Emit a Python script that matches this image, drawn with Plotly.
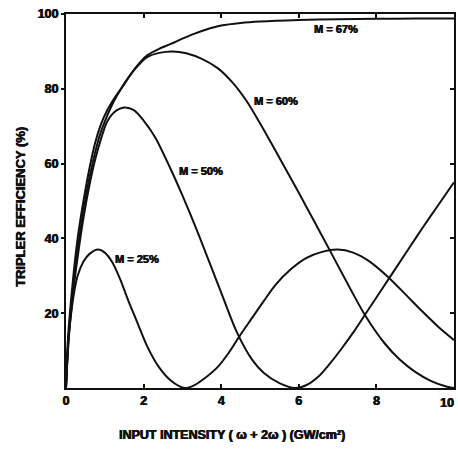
import plotly.graph_objects as go

# Tripler efficiency vs. input intensity for several mixing ratios M
x_m25 = [0, 0.05, 0.1, 0.2, 0.3, 0.45, 0.6, 0.83, 1.0, 1.2, 1.4, 1.6, 1.8, 2.1, 2.4, 2.7,
         3.05, 3.3, 3.6, 3.9, 4.2, 4.5, 4.8, 5.1, 5.4, 5.8, 6.2, 6.6, 7.0, 7.4, 7.8, 8.3,
         8.8, 9.2, 9.6, 10]
y_m25 = [0, 11, 17, 25, 30, 33.8, 35.8, 37, 36.2, 33.5, 29, 23.5, 18.5, 11, 5.5, 2,
         0, 0.7, 2.8, 5.5, 9.5, 14.3, 18.8, 23.3, 27.6, 31.8, 34.8, 36.4, 37, 36.2, 34, 29.7,
         24.5, 20.3, 16.3, 12.8]

x_m50 = [0, 0.05, 0.1, 0.2, 0.3, 0.45, 0.6, 0.75, 0.9, 1.05, 1.25, 1.5, 1.75, 2.0, 2.3,
         2.7, 3.0, 3.4, 3.7, 4.0, 4.4, 4.8, 5.1, 5.5, 5.9, 6.2, 6.5, 6.8, 7.1, 7.4, 7.7,
         8.0, 8.3, 8.6, 8.9, 9.2, 9.6, 10]
y_m50 = [0, 10, 17, 27, 35, 45.5, 54, 61, 66.5, 71, 73.8, 75, 74.3, 71.5, 67,
         58.5, 51.5, 41.5, 33.5, 25.5, 15, 7.5, 4, 1.3, 0, 0.8, 3, 6.5, 10.5, 14.8, 19.5,
         24.2, 28.9, 33.6, 38.3, 43, 49, 55]

x_m60 = [0, 0.05, 0.1, 0.2, 0.3, 0.45, 0.6, 0.75, 0.9, 1.05, 1.25, 1.45, 1.7, 1.9, 2.1,
         2.4, 2.75, 3.1, 3.5, 3.9, 4.3, 4.65, 5.0, 5.3, 5.6, 6.0, 6.4, 6.8, 7.2, 7.7, 8.2,
         8.6, 9.0, 9.4, 9.8, 10]
y_m60 = [0, 11, 18, 28.5, 37, 47.5, 56, 63, 68.5, 72.5, 77, 80.5, 84.3, 86.7, 88.5,
         89.6, 90, 89.5, 88, 85.6, 81.6, 76.8, 70.8, 65.3, 59.7, 52.2, 44.5, 36.8, 29, 19.6, 12.1,
         7.6, 4.3, 1.9, 0.4, 0]

x_m67 = [0, 0.05, 0.1, 0.2, 0.3, 0.45, 0.6, 0.75, 0.9, 1.05, 1.25, 1.45, 1.7, 1.9, 2.1,
         2.4, 2.7, 3.0, 3.3, 3.6, 4.0, 4.5, 5.0, 6.0, 7.0, 8.0, 9.0, 10]
y_m67 = [0, 13, 20, 31, 40, 50, 58.5, 65.5, 70.5, 74, 77.5, 80.5, 84.3, 87, 89,
         90.7, 92, 93.4, 94.7, 95.8, 96.9, 97.6, 98, 98.4, 98.6, 98.7, 98.8, 98.8]

# Curve labels: text and anchor position in data units
label_text = ["M = 67%", "M = 60%", "M = 50%", "M = 25%"]
label_x = [6.95, 5.4, 3.49, 1.84]
label_y = [95.9, 76.8, 58.1, 34.6]

x_ticks = [0, 2, 4, 6, 8, 10]
y_ticks = [20, 40, 60, 80, 100]

FONT = "Liberation Sans"
ink = "#111111"
heavy = "0.5px 0 0 #111111, -0.3px 0 0 #111111"

series = [(x_m25, y_m25, "y"), (x_m50, y_m50, "y"), (x_m60, y_m60, "y"), (x_m67, y_m67, "y2")]

fig = go.Figure()
for xs, ys, yax in series:
    fig.add_trace(go.Scatter(
        x=xs, y=ys, mode="lines", yaxis=yax,
        line=dict(color=ink, width=2, shape="spline", smoothing=0.8),
        showlegend=False, hoverinfo="skip",
    ))

for t, lx, ly in zip(label_text, label_x, label_y):
    fig.add_annotation(x=lx, y=ly, text=t, showarrow=False, xref="x", yref="y",
                       font=dict(family=FONT, size=11, color=ink, weight="bold", shadow=heavy))

tickfont = dict(family=FONT, size=12.5, color=ink, weight="bold", shadow=heavy)

# The last x tick label sits at the right page edge; nudge it inward so it stays readable
x_ticktext = [str(v) for v in x_ticks[:-1]] + [""]
fig.add_annotation(text=str(x_ticks[-1]), x=x_ticks[-1], xref="x", yref="paper",
                   y=0, yshift=-6, xanchor="right", yanchor="top", xshift=2,
                   showarrow=False, font=tickfont)

# Axis titles placed as paper annotations
fig.add_annotation(text="INPUT INTENSITY ( \u03c9 + 2\u03c9 ) (GW/cm\u00b2)",
                   xref="paper", yref="paper", x=(231.5 - 66) / 388, y=-(435 - 388) / 374,
                   showarrow=False, xanchor="center", yanchor="middle",
                   font=dict(family=FONT, size=12.5, color=ink, weight="bold", shadow=heavy))
fig.add_annotation(text="TRIPLER EFFICIENCY (%)", textangle=-90,
                   xref="paper", yref="paper", x=-(66 - 20) / 388, y=(388 - 207) / 374,
                   showarrow=False, xanchor="center", yanchor="middle",
                   font=dict(family=FONT, size=13, color=ink, weight="bold", shadow=heavy))

fig.update_layout(
    width=458, height=449,
    margin=dict(l=66, r=4, t=14, b=61, autoexpand=False),
    paper_bgcolor="white", plot_bgcolor="white",
    xaxis=dict(range=[0, 10], tickvals=x_ticks, ticktext=x_ticktext,
               ticks="inside", ticklen=4, tickwidth=1.5, tickcolor=ink,
               showline=True, linecolor=ink, linewidth=2, mirror="ticks",
               automargin=False,
               showgrid=False, zeroline=False, tickfont=tickfont),
    yaxis=dict(range=[0, 100], tickvals=y_ticks, ticktext=[str(v) for v in y_ticks],
               ticks="outside", ticklen=3, tickwidth=1.5, tickcolor=ink,
               showline=True, linecolor=ink, linewidth=2, mirror=True, automargin=False,
               showgrid=False, zeroline=False, tickfont=tickfont),
    yaxis2=dict(range=[0, 100], overlaying="y", side="right", tickvals=y_ticks,
                ticks="inside", ticklen=4, tickwidth=1.5, tickcolor=ink, automargin=False,
                showticklabels=False, showline=False, showgrid=False, zeroline=False),
)

fig.write_html("out.html")
